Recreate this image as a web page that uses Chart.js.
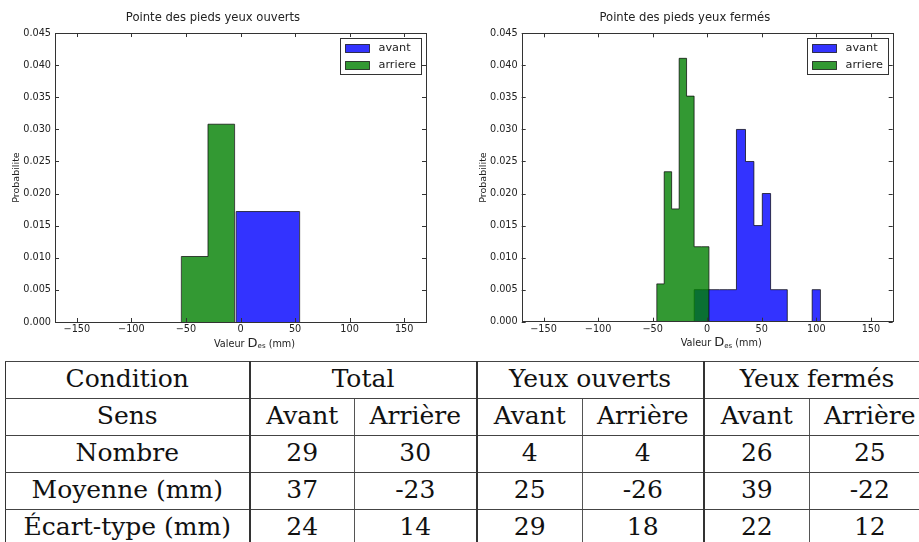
<!DOCTYPE html>
<html>
<head>
<meta charset="utf-8">
<script src="https://cdn.jsdelivr.net/npm/chart.js@4.4.1/dist/chart.umd.min.js"></script>
<style>
    html, body { margin: 0; padding: 0; width: 919px; height: 542px; overflow: hidden; background: #fff; }
    #histOpen { position: absolute; left: 0; top: 0; }
    #histClosed { position: absolute; left: 477px; top: 0; }
    #stats {
        position: absolute; left: 5px; top: 361px; width: 925px;
        border-collapse: collapse; table-layout: fixed;
        font-family: "DejaVu Serif", serif; font-size: 25px; color: #111;
    }
    #stats td {
        height: 34px; line-height: 34px; padding: 0 0 2px 0;
        text-align: center; white-space: nowrap; overflow: visible;
        border-top: 1px solid #444; border-bottom: 1px solid #444;
    }
    #stats td.first { border-left: 1px solid #333; border-right: 2px solid #333; }
    #stats td.major { border-right: 2px solid #333; }
    #stats td.minor { border-right: 1px solid #555; }
</style>
</head>
<body>
<canvas id="histOpen" width="444" height="352"></canvas>
<canvas id="histClosed" width="442" height="352"></canvas>
<table id="stats"></table>

<script>

/// DATA ///

// axis ticks
const xTicks = [-150, -100, -50, 0, 50, 100, 150];
const yTicks = [0, 0.005, 0.010, 0.015, 0.020, 0.025, 0.030, 0.035, 0.040, 0.045];
const legendLabels = ['avant', 'arriere'];

// yeux ouverts : bin edges + probability density
const openAvantEdges = [-4.0, 54.2];
const openAvantHeights = [0.0172];
const openArriereEdges = [-54.2, -29.8, -5.4];
const openArriereHeights = [0.0102, 0.0308];

// yeux fermés
const closedAvantEdges = [-11.9, -4.2, 3.5, 11.3, 19.0, 26.8, 35.1, 42.8, 50.5, 58.1, 65.8, 73.4, 81.0, 88.6, 96.2, 103.8];
const closedAvantHeights = [0.005, 0.005, 0.005, 0.005, 0.005, 0.030, 0.025, 0.015, 0.020, 0.005, 0.005, 0, 0, 0, 0.005];
const closedArriereEdges = [-46.2, -39.4, -32.6, -25.7, -18.9, -12.0, -5.3, 1.6];
const closedArriereHeights = [0.0059, 0.0234, 0.0176, 0.0411, 0.0352, 0.0117, 0.0117];

// table
const groups = ['Total', 'Yeux ouverts', 'Yeux fermés'];
const sens = ['Avant', 'Arrière'];
const rowLabels = ['Nombre', 'Moyenne (mm)', 'Écart-type (mm)'];
const nombre = [29, 30, 4, 4, 26, 25];
const moyenne = [37, -23, 25, -26, 39, -22];
const ecartType = [24, 14, 29, 18, 22, 12];


const BLUE = 'rgba(0, 0, 255, 0.8)';
const GREEN = 'rgba(0, 128, 0, 0.8)';
const FONT = 'DejaVu Sans';


// turn bin edges + heights into points for a stepped, filled line
function stepPoints(edges, heights) {
    const pts = [{ x: edges[0], y: 0 }];
    heights.forEach((h, i) => pts.push({ x: edges[i], y: h }));
    pts.push({ x: edges[edges.length - 1], y: 0 });
    return pts;
}


/// MATPLOTLIB-LIKE FRAME, TICKS, LEGEND, XLABEL ///

const mplAxes = {
    id: 'mplAxes',
    afterDatasetsDraw(chart) {
        const { ctx, chartArea: a, scales: { x, y } } = chart;
        ctx.save();

        // frame
        ctx.strokeStyle = '#333';
        ctx.lineWidth = 1;
        ctx.strokeRect(Math.round(a.left) + 0.5, Math.round(a.top) + 0.5,
            Math.round(a.right - a.left), Math.round(a.bottom - a.top));

        // inward ticks on all four sides
        ctx.beginPath();
        x.ticks.forEach(t => {
            const px = Math.round(x.getPixelForValue(t.value)) + 0.5;
            ctx.moveTo(px, a.bottom); ctx.lineTo(px, a.bottom - 4);
            ctx.moveTo(px, a.top); ctx.lineTo(px, a.top + 4);
        });
        y.ticks.forEach(t => {
            const py = Math.round(y.getPixelForValue(t.value)) + 0.5;
            ctx.moveTo(a.left, py); ctx.lineTo(a.left + 4, py);
            ctx.moveTo(a.right, py); ctx.lineTo(a.right - 4, py);
        });
        ctx.stroke();

        // legend box, top right inside the axes
        const bw = 81, bh = 36;
        const bx = Math.round(a.right - 5 - bw) + 0.5;
        const by = Math.round(a.top + 5) + 0.5;
        ctx.fillStyle = '#fff';
        ctx.fillRect(bx, by, bw, bh);
        ctx.strokeStyle = '#333';
        ctx.strokeRect(bx, by, bw, bh);
        ctx.font = '11.3px "' + FONT + '"';
        ctx.textBaseline = 'middle';
        legendLabels.forEach((lab, i) => {
            const cy = by + 10 + i * 17;
            ctx.fillStyle = [BLUE, GREEN][i];
            ctx.fillRect(bx + 5, cy - 4, 24, 8);
            ctx.strokeStyle = 'rgba(0,0,0,0.7)';
            ctx.strokeRect(bx + 5, cy - 4, 24, 8);
            ctx.fillStyle = '#222';
            ctx.fillText(lab, bx + 38, cy);
        });

        // x label : Valeur D_es (mm)
        const parts = [
            ['Valeur ', 9.7, 0],
            ['D', 13, 0],
            ['es', 7, 1.5],
            [' (mm)', 9.7, 0]
        ];
        ctx.textBaseline = 'alphabetic';
        let total = 0;
        parts.forEach(p => { ctx.font = p[1] + 'px "' + FONT + '"'; total += ctx.measureText(p[0]).width; });
        let cx = (a.left + a.right) / 2 + 14 - total / 2;
        const base = a.bottom + 24.5;
        ctx.fillStyle = '#222';
        parts.forEach(p => {
            ctx.font = p[1] + 'px "' + FONT + '"';
            ctx.fillText(p[0], cx, base + p[2]);
            cx += ctx.measureText(p[0]).width;
        });

        ctx.restore();
    }
};


function makeHist(canvasId, title, avant, arriere, o) {
    const ctx = document.getElementById(canvasId).getContext('2d');
    return new Chart(ctx, {
        type: 'line',
        plugins: [mplAxes],
        data: {
            datasets: [{
                label: legendLabels[0],
                data: stepPoints(avant[0], avant[1]),
                stepped: 'before',
                fill: 'origin',
                backgroundColor: BLUE,
                borderColor: 'rgba(0,0,0,0.7)',
                borderWidth: 1,
                pointRadius: 0,
                order: 1
            }, {
                label: legendLabels[1],
                data: stepPoints(arriere[0], arriere[1]),
                stepped: 'before',
                fill: 'origin',
                backgroundColor: GREEN,
                borderColor: 'rgba(0,0,0,0.7)',
                borderWidth: 1,
                pointRadius: 0,
                order: 0 // green on top
            }]
        },
        options: {
            responsive: false,
            animation: false,
            layout: { padding: { left: 0, right: o.padRight, top: 0, bottom: 0 } },
            scales: {
                x: {
                    type: 'linear',
                    min: -170,
                    max: 170,
                    grid: { display: false, drawTicks: false },
                    border: { display: false },
                    afterBuildTicks: (scale) => { scale.ticks = xTicks.map(v => ({ value: v })); },
                    afterFit: (scale) => { scale.height = o.xHeight; },
                    ticks: {
                        padding: 2,
                        autoSkip: false,
                        maxRotation: 0,
                        color: '#222',
                        font: { family: FONT, size: 9.7 },
                        callback: (v) => String(v).replace('-', '\u2212')
                    }
                },
                y: {
                    min: 0,
                    max: 0.045,
                    grid: { display: false, drawTicks: false },
                    border: { display: false },
                    afterBuildTicks: (scale) => { scale.ticks = yTicks.map(v => ({ value: v })); },
                    afterFit: (scale) => { scale.width = o.yWidth; },
                    ticks: {
                        padding: 4,
                        color: '#222',
                        font: { family: FONT, size: 9.7 },
                        callback: (v) => v.toFixed(3)
                    },
                    title: {
                        display: true,
                        text: 'Probabilite',
                        color: '#222',
                        font: { family: FONT, size: 9.5 },
                        padding: { top: o.yTitlePad, bottom: 0 }
                    }
                }
            },
            plugins: {
                legend: { display: false },
                tooltip: { enabled: false },
                title: {
                    display: true,
                    text: title,
                    color: '#222',
                    font: { family: FONT, size: 11.6, weight: 'normal' },
                    padding: { top: o.titleTop, bottom: o.titleBottom }
                }
            }
        }
    });
}


makeHist('histOpen', 'Pointe des pieds yeux ouverts',
    [openAvantEdges, openAvantHeights], [openArriereEdges, openArriereHeights],
    { padRight: 18, yWidth: 55, xHeight: 30, yTitlePad: 11.3, titleTop: 11.5, titleBottom: 7.6 });

makeHist('histClosed', 'Pointe des pieds yeux fermés',
    [closedAvantEdges, closedAvantHeights], [closedArriereEdges, closedArriereHeights],
    { padRight: 26.3, yWidth: 44.7, xHeight: 30.3, yTitlePad: 0.6, titleTop: 11, titleBottom: 8.4 });


/// TABLE ///

function buildTable() {
    const table = document.getElementById('stats');
    const widths = [244, 105, 122, 106, 121, 106, 121];
    let html = '<colgroup>' + widths.map(w => `<col style="width:${w}px">`).join('') + '</colgroup>';

    html += '<tr><td class="first">Condition</td>';
    groups.forEach(g => { html += `<td colspan="2" class="major">${g}</td>`; });
    html += '</tr>';

    html += '<tr><td class="first">Sens</td>';
    groups.forEach(() => {
        html += `<td class="minor">${sens[0]}</td><td class="major">${sens[1]}</td>`;
    });
    html += '</tr>';

    [nombre, moyenne, ecartType].forEach((vals, r) => {
        html += `<tr><td class="first">${rowLabels[r]}</td>`;
        vals.forEach((v, i) => {
            html += `<td class="${i % 2 === 0 ? 'minor' : 'major'}">${v}</td>`;
        });
        html += '</tr>';
    });

    table.innerHTML = html;
}

buildTable();

</script>
</body>
</html>
